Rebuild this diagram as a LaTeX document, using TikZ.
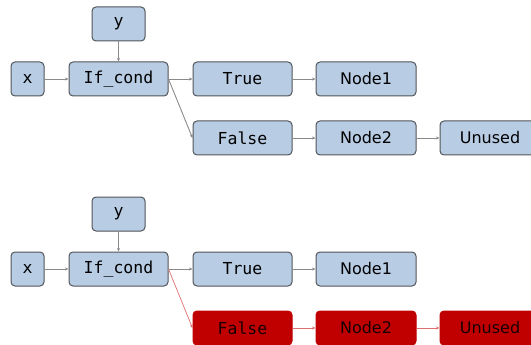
\documentclass[tikz,border=0pt]{standalone}
\usepackage{fontspec}
\setmainfont{DejaVu Sans}
\newfontfamily\codefont{DejaVu Sans Mono}
\usetikzlibrary{arrows.meta}
\definecolor{boxblue}{HTML}{B8CCE4}
\definecolor{boxline}{HTML}{505458}
\definecolor{deadred}{HTML}{C00000}
\definecolor{edgegray}{HTML}{8A8A8A}
\definecolor{edgered}{HTML}{E07070}
\tikzset{
  box/.style={draw=boxline, fill=boxblue, line width=1pt, rounded corners=4pt,
    minimum height=34pt, inner sep=0pt, text=black, font=\fontsize{16}{16}\selectfont},
  codebox/.style={box, font=\codefont\fontsize{16.5}{16.5}\selectfont},
  deadbox/.style={draw=deadred, fill=deadred, text={black!90!red}},
  link/.style={draw=edgegray, line width=0.9pt, -{Stealth[length=3.5pt,width=3pt]}},
  deadlink/.style={link, draw=edgered, line width=0.7pt},
}
\begin{document}
\begin{tikzpicture}[x=1pt, y=-1pt]
\useasboundingbox (0,0) rectangle (531,345);
\clip (0,0) rectangle (531,345);

% graph before pruning
\begin{scope}
  \node[codebox, minimum width=33pt] (xa) at (27.5,79) {x};
  \node[codebox, minimum width=53pt] (ya) at (118.5,24) {y};
  \node[codebox, minimum width=99pt] (ifa) at (118.5,79) {If\_cond};
  \node[codebox, minimum width=99pt] (truea) at (242.5,79) {True};
  \node[codebox, minimum width=99pt] (falsea) at (242.5,138) {False};
  \node[box, minimum width=100pt] (n1a) at (366,79) {Node1};
  \node[box, minimum width=100pt] (n2a) at (366,138) {Node2};
  \node[box, minimum width=100pt] (una) at (490,138) {Unused};
  \draw[link] (xa) -- (ifa);
  \draw[link] (ya) -- (ifa);
  \draw[link] (ifa) -- (truea);
  \draw[link] (ifa.east) -- (falsea.west);
  \draw[link] (truea) -- (n1a);
  \draw[link] (falsea) -- (n2a);
  \draw[link] (n2a) -- (una);
\end{scope}

% graph with the false branch marked dead
\begin{scope}[yshift=-190pt]
  \node[codebox, minimum width=33pt] (xb) at (27.5,79) {x};
  \node[codebox, minimum width=53pt] (yb) at (118.5,24) {y};
  \node[codebox, minimum width=99pt] (ifb) at (118.5,79) {If\_cond};
  \node[codebox, minimum width=99pt] (trueb) at (242.5,79) {True};
  \node[codebox, deadbox, minimum width=99pt] (falseb) at (242.5,138) {False};
  \node[box, minimum width=100pt] (n1b) at (366,79) {Node1};
  \node[box, deadbox, minimum width=100pt] (n2b) at (366,138) {Node2};
  \node[box, deadbox, minimum width=100pt] (unb) at (490,138) {Unused};
  \draw[link] (xb) -- (ifb);
  \draw[link] (yb) -- (ifb);
  \draw[link] (ifb) -- (trueb);
  \draw[link] (trueb) -- (n1b);
  \draw[deadlink] (ifb.east) -- (falseb.west);
  \draw[deadlink] (falseb) -- (n2b);
  \draw[deadlink] (n2b) -- (unb);
\end{scope}
\end{tikzpicture}
\end{document}
